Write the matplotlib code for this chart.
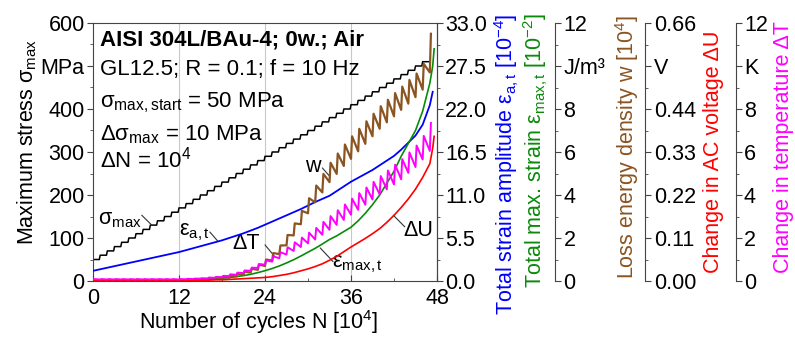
import matplotlib
matplotlib.use('Agg')
import matplotlib.pyplot as plt
from matplotlib.ticker import MultipleLocator, FixedLocator

plt.rcParams.update({'font.size': 15.5, 'font.family': 'Liberation Sans',
                     'mathtext.fontset': 'custom', 'mathtext.rm': 'Liberation Sans',
                     'mathtext.it': 'Liberation Sans:italic', 'mathtext.bf': 'Liberation Sans:bold'})

# --- data (N in 10^4 cycles, one block per 10^4 cycles) ---
# max. stress of each load block (MPa), blocks 0..46
sigma_levels = [50, 60, 70, 80, 90, 100, 110, 120, 130, 140, 150, 160, 170, 180, 190, 200,
                210, 220, 230, 240, 250, 260, 270, 280, 290, 300, 310, 320, 330, 340, 350, 360,
                370, 380, 390, 400, 410, 420, 430, 440, 450, 460, 470, 480, 490, 500, 510]

# smooth curves, values at N = 0..47 and end points
n_smooth = list(range(48))
eps_a = [1.3, 1.5, 1.7, 1.9, 2.1, 2.3, 2.5, 2.7, 2.9, 3.1, 3.3, 3.5, 3.7, 3.95, 4.2, 4.45,
         4.7, 4.95, 5.2, 5.5, 5.8, 6.1, 6.45, 6.8, 7.2, 7.6, 8.0, 8.4, 8.8, 9.2, 9.65, 10.1,
         10.5, 10.9, 11.5, 12.1, 12.7, 13.2, 13.7, 14.2, 14.8, 15.4, 16.0, 16.8, 17.7, 18.6,
         20.0, 22.5]
eps_a_end_n, eps_a_end = [47.4], [24.2]

eps_max = [0.05, 0.05, 0.05, 0.05, 0.05, 0.05, 0.05, 0.05, 0.05, 0.05, 0.05, 0.05, 0.05,
           0.05, 0.05, 0.06, 0.08, 0.10, 0.13, 0.16, 0.20, 0.25, 0.31, 0.39, 0.48, 0.58,
           0.70, 0.84, 0.99, 1.16, 1.34, 1.52, 1.72, 1.93, 2.10, 2.30, 2.50, 2.80, 3.15,
           3.55, 4.00, 4.55, 5.10, 5.80, 6.40, 7.00, 7.90, 9.20]
eps_max_end_n, eps_max_end = [47.4, 47.6], [10.0, 10.8]

dU = [0.002, 0.002, 0.002, 0.002, 0.002, 0.002, 0.002, 0.002, 0.002, 0.002, 0.002, 0.002,
      0.002, 0.002, 0.002, 0.002, 0.002, 0.003, 0.003, 0.004, 0.005, 0.006, 0.007, 0.008,
      0.009, 0.011, 0.014, 0.017, 0.021, 0.026, 0.031, 0.037, 0.044, 0.053, 0.063, 0.075,
      0.087, 0.098, 0.109, 0.121, 0.134, 0.150, 0.168, 0.188, 0.210, 0.235, 0.265, 0.300]
dU_end_n, dU_end = [47.4, 47.6], [0.34, 0.37]

# saw-tooth curves: value before the load step (lo) and peak after it (hi), blocks 0..47
w_lo = [0.01, 0.01, 0.01, 0.01, 0.01, 0.01, 0.01, 0.01, 0.01, 0.01, 0.01, 0.02, 0.02, 0.03,
        0.04, 0.045, 0.06, 0.085, 0.12, 0.16, 0.22, 0.29, 0.39, 0.52, 0.70, 0.95, 1.25, 1.66,
        2.12, 2.64, 3.15, 3.66, 4.12, 4.60, 4.98, 5.35, 5.68, 6.03, 6.38, 6.73, 7.08, 7.38,
        7.66, 7.96, 8.25, 8.55, 8.90, 9.70]
w_hi = [0.02, 0.02, 0.02, 0.02, 0.02, 0.02, 0.02, 0.02, 0.02, 0.02, 0.02, 0.04, 0.04, 0.05,
        0.06, 0.075, 0.10, 0.135, 0.18, 0.24, 0.32, 0.43, 0.57, 0.76, 1.00, 1.30, 1.65, 2.14,
        2.68, 3.26, 3.85, 4.44, 4.98, 5.50, 5.93, 6.35, 6.73, 7.08, 7.43, 7.78, 8.13, 8.43,
        8.74, 9.04, 9.35, 9.65, 10.10, 11.50]
dT_lo = [0.07, 0.07, 0.07, 0.07, 0.07, 0.07, 0.07, 0.07, 0.07, 0.07, 0.07, 0.07, 0.07, 0.08,
         0.09, 0.11, 0.12, 0.15, 0.18, 0.23, 0.29, 0.37, 0.48, 0.61, 0.76, 0.90, 1.06, 1.23,
         1.40, 1.58, 1.75, 1.93, 2.15, 2.38, 2.61, 2.84, 3.08, 3.31, 3.55, 3.79, 4.03, 4.26,
         4.49, 4.73, 5.03, 5.30, 5.65, 6.05]
dT_hi = [0.09, 0.09, 0.09, 0.09, 0.09, 0.09, 0.09, 0.09, 0.09, 0.09, 0.09, 0.09, 0.09, 0.10,
         0.11, 0.13, 0.16, 0.19, 0.24, 0.31, 0.39, 0.49, 0.62, 0.79, 0.96, 1.14, 1.34, 1.57,
         1.80, 2.02, 2.25, 2.47, 2.75, 3.02, 3.29, 3.56, 3.83, 4.09, 4.35, 4.61, 4.88, 5.14,
         5.41, 5.67, 5.98, 6.30, 6.75, 7.35]


def stairs(levels, riser=0.12):
    n, v = [], []
    for k, s in enumerate(levels):
        n += [k, k + 1 - riser]
        v += [s, s]
    return n, v


def saw(lo, hi, rise=0.15):
    n, v = [], []
    for k in range(len(lo)):
        n += [k, k + rise]
        v += [lo[k], hi[k]]
    return n, v


W, H = 795, 338
fig = plt.figure(figsize=(W / 100, H / 100), dpi=100)
ax = fig.add_axes([93 / W, 57 / H, 344 / W, 258 / H])

frame = '#444444'
for s in ax.spines.values():
    s.set_color(frame)

# left axis: stress
n_s, v_s = stairs(sigma_levels)
ax.plot(n_s, v_s, color='black', lw=1.1)
ax.set_xlim(0, 48)
ax.set_ylim(0, 600)
ax.set_xticks([0, 12, 24, 36, 48])
ax.xaxis.set_minor_locator(MultipleLocator(6))
ax.set_yticks([0, 100, 200, 300, 400, 500, 600])
ax.set_yticklabels(['0', '100', '200', '300', '400', 'MPa', '600'])
ax.yaxis.set_minor_locator(MultipleLocator(50))
ax.tick_params(axis='y', which='major', direction='out', length=4, pad=2, color=frame)
ax.tick_params(axis='y', which='minor', direction='out', length=2, color=frame)
ax.tick_params(axis='x', which='major', direction='in', length=4, pad=5, color=frame)
ax.tick_params(axis='x', which='minor', direction='in', length=2, color=frame)
for xv in [12, 24, 36]:
    ax.axvline(xv, color='#c8c8c8', lw=0.8, zorder=0)


def side_axis(offset, ymax, ticks, labels, minor):
    a = ax.twinx()
    for name in ['top', 'left', 'bottom']:
        a.spines[name].set_visible(False)
    a.spines['right'].set_color(frame)
    if offset:
        a.spines['right'].set_position(('outward', offset))
    a.set_ylim(0, ymax)
    a.yaxis.set_major_locator(FixedLocator(ticks))
    a.set_yticklabels(labels)
    a.yaxis.set_minor_locator(MultipleLocator(minor))
    a.tick_params(axis='y', which='major', direction='out', length=4, pad=2, color=frame)
    a.tick_params(axis='y', which='minor', direction='out', length=2, color=frame)
    return a


ax_e = side_axis(0, 33, [0, 5.5, 11, 16.5, 22, 27.5, 33],
                 ['0.0', '5.5', '11.0', '16.5', '22.0', '27.5', '33.0'], 2.75)
ax_w = side_axis(85, 12, [0, 2, 4, 6, 8, 10, 12],
                 ['0', '2', '4', '6', '8', 'J/m³', '12'], 1)
ax_u = side_axis(150, 0.66, [0, 0.11, 0.22, 0.33, 0.44, 0.55, 0.66],
                 ['0.00', '0.11', '0.22', '0.33', '0.44', 'V', '0.66'], 0.055)
ax_t = side_axis(215, 12, [0, 2, 4, 6, 8, 10, 12],
                 ['0', '2', '4', '6', '8', 'K', '12'], 1)

ax_u.plot(n_smooth + dU_end_n, dU + dU_end, color='#ff0000', lw=1.2)
ax_w.plot(n_smooth + eps_max_end_n, eps_max + eps_max_end, color='#0a8a0a', lw=1.2)
n_t, v_t = saw(dT_lo, dT_hi)
ax_t.plot(n_t, v_t, color='#ff00ff', lw=1.4)
n_w, v_w = saw(w_lo, w_hi)
ax_w.plot(n_w, v_w, color='#8b5522', lw=1.6)
ax_e.plot(n_smooth + eps_a_end_n, eps_a + eps_a_end, color='#0000ff', lw=1.3)

# curve labels with leader lines (main axis coordinates)
lead = dict(arrowstyle='-', color='#333333', lw=0.8, shrinkA=0, shrinkB=0)
ax.text(3.8, 142, 'σ$_{\\mathrm{max}}$', ha='center', va='center')
ax.annotate('', xy=(8.2, 130), xytext=(6.8, 153), arrowprops=lead)
ax.text(14.2, 114, 'ε$_{\\mathrm{a,t}}$', ha='center', va='center')
ax.annotate('', xy=(17.4, 93), xytext=(16.3, 114), arrowprops=lead)
ax.text(21.3, 88, 'ΔT', ha='center', va='center')
ax.annotate('', xy=(25.4, 56), xytext=(24.0, 84), arrowprops=lead)
ax.text(30.6, 266, 'w', ha='center', va='center')
ax.annotate('', xy=(33.1, 242), xytext=(32.0, 263), arrowprops=lead)
ax.text(33.4, 40, 'ε$_{\\mathrm{max,t}}$', ha='left', va='center')
ax.annotate('', xy=(31.7, 77), xytext=(33.5, 45), arrowprops=lead)
ax.text(45.4, 118, 'ΔU', ha='center', va='center')
ax.annotate('', xy=(41.9, 153), xytext=(43.5, 126), arrowprops=lead)

# test info
ax.text(0.02, 0.934, 'AISI 304L/BAu-4; 0w.; Air', transform=ax.transAxes,
        fontweight='bold', va='center', fontsize=16)
ax.text(0.02, 0.818, 'GL12.5; R = 0.1; f = 10 Hz', transform=ax.transAxes, va='center',
        fontsize=16)
ax.text(0.02, 0.69, 'σ$_{\\mathrm{max,start}}$ = 50 MPa', transform=ax.transAxes, va='center',
        fontsize=16)
ax.text(0.02, 0.566, 'Δσ$_{\\mathrm{max}}$ = 10 MPa', transform=ax.transAxes, va='center',
        fontsize=16)
ax.text(0.02, 0.469, 'ΔN = 10$^{4}$', transform=ax.transAxes, va='center', fontsize=16)

# axis titles
fig.text(259 / W, 2 / H, 'Number of cycles N [10$^{4}$]', ha='center', va='bottom',
         fontsize=15.5)
fig.text(27 / W, 1 - 142 / H, 'Maximum stress σ$_{\\mathrm{max}}$', rotation=90,
         ha='center', va='center')
fig.text(507 / W, 1 - 164 / H, 'Total strain amplitude ε$_{\\mathrm{a,t}}$ [10$^{-4}$]',
         rotation=90, ha='center', va='center', color='#0000ff')
fig.text(536 / W, 1 - 151 / H, 'Total max. strain ε$_{\\mathrm{max,t}}$ [10$^{-2}$]',
         rotation=90, ha='center', va='center', color='#0a8a0a')
fig.text(627 / W, 1 - 147 / H, 'Loss energy density w [10$^{4}$]',
         rotation=90, ha='center', va='center', color='#8b5522')
fig.text(714 / W, 1 - 152 / H, 'Change in AC voltage ΔU',
         rotation=90, ha='center', va='center', color='#ff0000')
fig.text(784 / W, 1 - 147 / H, 'Change in temperature ΔT',
         rotation=90, ha='center', va='center', color='#ff00ff')

fig.savefig('out.png', dpi=100)
